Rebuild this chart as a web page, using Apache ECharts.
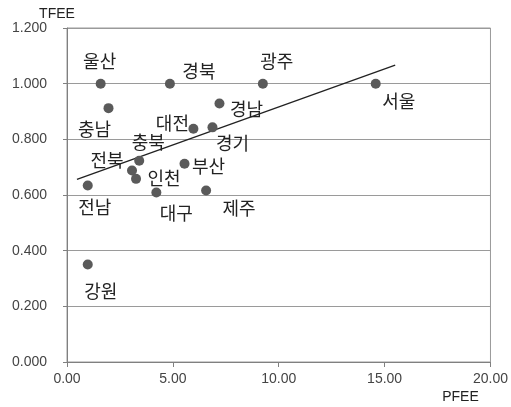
<!DOCTYPE html>
<html>
<head>
<meta charset="utf-8">
<script src="https://cdn.jsdelivr.net/npm/echarts@6/dist/echarts.min.js"></script>
<style>
  html, body { margin: 0; padding: 0; background: #fff; }
  #main { width: 511px; height: 407px; }
</style>
</head>
<body>
<div id="main"></div>
<script>
// 지역별 PFEE / TFEE
var regions = ['울산', '경북', '광주', '서울', '충남', '경남', '대전', '경기', '충북', '전북', '인천', '부산', '대구', '제주', '전남', '강원'];
var pfee = [1.59, 4.86, 9.25, 14.58, 1.96, 7.20, 5.97, 6.87, 3.41, 3.07, 3.26, 5.55, 4.22, 6.57, 0.98, 0.98];
var tfee = [1.000, 1.000, 1.000, 1.000, 0.912, 0.929, 0.838, 0.843, 0.723, 0.688, 0.658, 0.712, 0.609, 0.616, 0.634, 0.350];

// 추세선 양 끝점
var trendX = [0.47, 15.50];
var trendY = [0.656, 1.067];

// 라벨 위치 (점 중심 기준 px)
var labelOffset = {
    '울산': [-1, -23], '경북': [29, -13], '광주': [14, -23], '서울': [23, 17],
    '충남': [-14, 21], '경남': [27, 6], '대전': [-21, -6], '경기': [20, 16],
    '충북': [9, -19], '전북': [-25, -10], '인천': [28, -1], '부산': [24, 2],
    '대구': [20, 21], '제주': [33, 18], '전남': [7, 22], '강원': [13, 27]
};

var chartDom = document.getElementById('main');
var myChart = echarts.init(chartDom);
var option;

var points = regions.map(function (name, i) {
    return {
        name: name,
        value: [pfee[i], tfee[i]],
        label: { offset: labelOffset[name] }
    };
});

option = {
    animation: false,
    grid: {
        left: 67,
        right: 16,
        top: 28,
        bottom: 45,
        show: true,
        borderColor: '#9a9a9a',
        borderWidth: 1
    },
    xAxis: {
        type: 'value',
        min: 0,
        max: 20,
        interval: 5,
        name: 'PFEE',
        nameLocation: 'end',
        nameGap: -30,
        nameTextStyle: {
            fontFamily: 'Liberation Sans',
            fontSize: 14,
            color: '#222',
            align: 'center',
            verticalAlign: 'top',
            padding: [28, 0, 0, 0]
        },
        axisLine: { lineStyle: { color: '#808080' } },
        axisTick: { show: true, length: 5, lineStyle: { color: '#808080' } },
        splitLine: { show: false },
        axisLabel: {
            margin: 10,
            fontFamily: 'Liberation Sans',
            fontSize: 14,
            color: '#444',
            formatter: function (v) { return v.toFixed(2); }
        }
    },
    yAxis: {
        type: 'value',
        min: 0,
        max: 1.2,
        interval: 0.2,
        name: 'TFEE',
        nameLocation: 'end',
        nameGap: 6,
        nameTextStyle: {
            fontFamily: 'Liberation Sans',
            fontSize: 14,
            color: '#222',
            align: 'center',
            padding: [0, 20, 0, 0]
        },
        axisLine: { show: true, lineStyle: { color: '#808080' } },
        axisTick: { show: true, length: 4, lineStyle: { color: '#808080' } },
        splitLine: { show: true, lineStyle: { color: '#9a9a9a', width: 1 } },
        axisLabel: {
            margin: 20,
            fontFamily: 'Liberation Sans',
            fontSize: 14,
            color: '#444',
            formatter: function (v) { return v.toFixed(3); }
        }
    },
    series: [
        {
            type: 'line',
            data: [[trendX[0], trendY[0]], [trendX[1], trendY[1]]],
            symbol: 'none',
            lineStyle: { color: '#222', width: 1.3 },
            silent: true,
            z: 1
        },
        {
            type: 'scatter',
            data: points,
            symbolSize: 10,
            itemStyle: { color: '#5a5a5a', opacity: 1 },
            label: {
                show: true,
                position: 'inside',
                formatter: '{b}',
                fontFamily: 'Noto Sans CJK KR',
                fontSize: 18,
                color: '#222'
            },
            z: 2
        }
    ]
};

option && myChart.setOption(option);
</script>
</body>
</html>
